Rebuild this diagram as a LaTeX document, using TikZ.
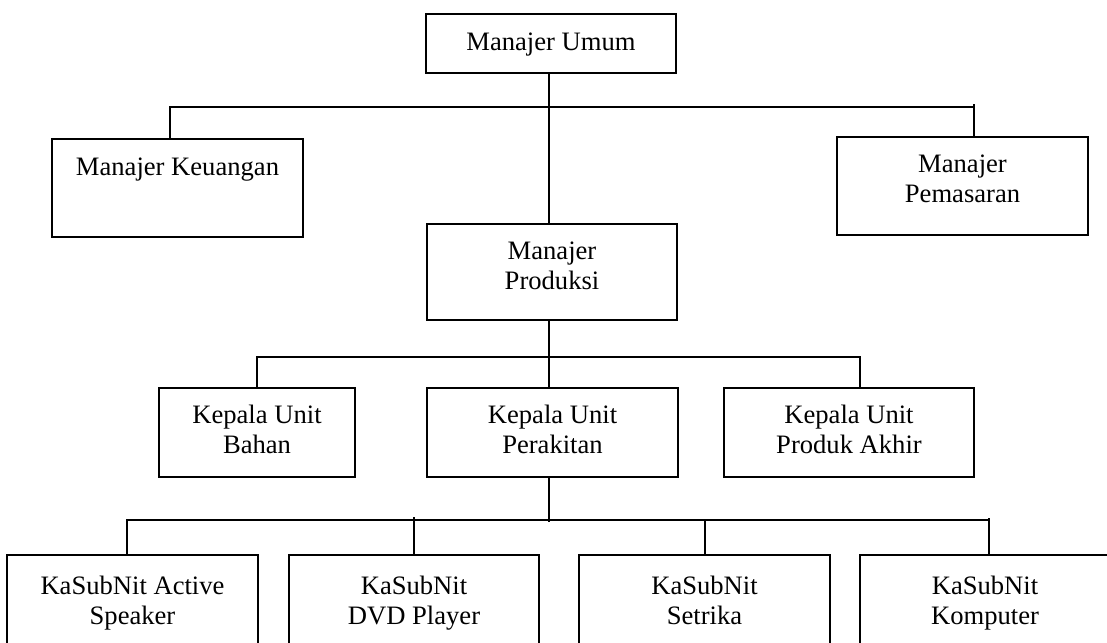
\documentclass[tikz,border=0pt]{standalone}
\usepackage{fontspec}
\setmainfont{Liberation Serif}
\begin{document}
\begin{tikzpicture}[x=1pt,y=-1pt,
  box/.style={draw, line width=1.6pt, inner sep=0pt, outer sep=0pt, anchor=north west},
  txt/.style={inner sep=0pt, align=center, anchor=north, font=\fontsize{26.6}{30}\selectfont},
  conn/.style={line width=1.6pt}]
\useasboundingbox (0,0) rectangle (1107,642);
\clip (0,0) rectangle (1107,642);
% boxes
\node[box, minimum width=250pt, minimum height=59pt] (umum) at (426,14) {};
\node[box, minimum width=251pt, minimum height=98pt] (keu) at (52,139) {};
\node[box, minimum width=251pt, minimum height=98pt] (pem) at (837,137) {};
\node[box, minimum width=250pt, minimum height=96pt] (prod) at (427,224) {};
\node[box, minimum width=196pt, minimum height=89pt] (bahan) at (159,388) {};
\node[box, minimum width=251pt, minimum height=89pt] (perak) at (427,388) {};
\node[box, minimum width=250pt, minimum height=89pt] (akhir) at (724,388) {};
\node[box, minimum width=251pt, minimum height=120pt] (ks1) at (7,555) {};
\node[box, minimum width=250pt, minimum height=120pt] (ks2) at (289,555) {};
\node[box, minimum width=251pt, minimum height=120pt] (ks3) at (579,555) {};
\node[box, minimum width=250pt, minimum height=120pt] (ks4) at (860,555) {};
% texts
\node[txt] (tumum) at ([yshift=-15pt]umum.north) {\strut Manajer Umum};
\node[txt] (tkeu) at ([yshift=-15pt]keu.north) {\strut Manajer Keuangan};
\node[txt] (tpem) at ([yshift=-14pt]pem.north) {\strut Manajer\\Pemasaran};
\node[txt] (tprod) at ([yshift=-14pt]prod.north) {\strut Manajer\\Produksi};
\node[txt] (tbahan) at ([yshift=-14pt]bahan.north) {\strut Kepala Unit\\Bahan};
\node[txt] (tperak) at ([yshift=-14pt]perak.north) {\strut Kepala Unit\\Perakitan};
\node[txt] (takhir) at ([yshift=-14pt]akhir.north) {\strut Kepala Unit\\Produk Akhir};
\node[txt] (tks1) at ([yshift=-18pt]ks1.north) {\strut KaSubNit Active\\Speaker};
\node[txt] (tks2) at ([yshift=-18pt]ks2.north) {\strut KaSubNit\\DVD Player};
\node[txt] (tks3) at ([yshift=-18pt]ks3.north) {\strut KaSubNit\\Setrika};
\node[txt] (tks4) at ([yshift=-18pt]ks4.north) {\strut KaSubNit\\Komputer};
% coordinates
\coordinate (spine) at (549,0);
\coordinate (bus1) at (549,107);
\coordinate (bus2) at (549,357);
\coordinate (bus3) at (549,520);
% connectors
\draw[conn] (umum.south -| spine) -- (prod.north -| spine);
\draw[conn] ([xshift=-7.5pt]keu.north) |- ([xshift=11.5pt]pem.north |- bus1);
\draw[conn] ([xshift=11.5pt]pem.north) -- ++(0,-33);
\draw[conn] (prod.south -| spine) -- (perak.north -| spine);
\draw[conn] (bahan.north) |- ([xshift=11pt]akhir.north |- bus2) -- ([xshift=11pt]akhir.north);
\draw[conn] (perak.south -| spine) -- ++(0,45);
\draw[conn] ([xshift=-5.5pt]ks1.north) |- ([xshift=4pt]ks4.north |- bus3);
\draw[conn] ([xshift=4pt]ks4.north) -- ++(0,-37);
\draw[conn] (ks2.north) -- ++(0,-38);
\draw[conn] ([xshift=0.5pt]ks3.north) -- ([xshift=0.5pt]ks3.north |- bus3);
\end{tikzpicture}
\end{document}
